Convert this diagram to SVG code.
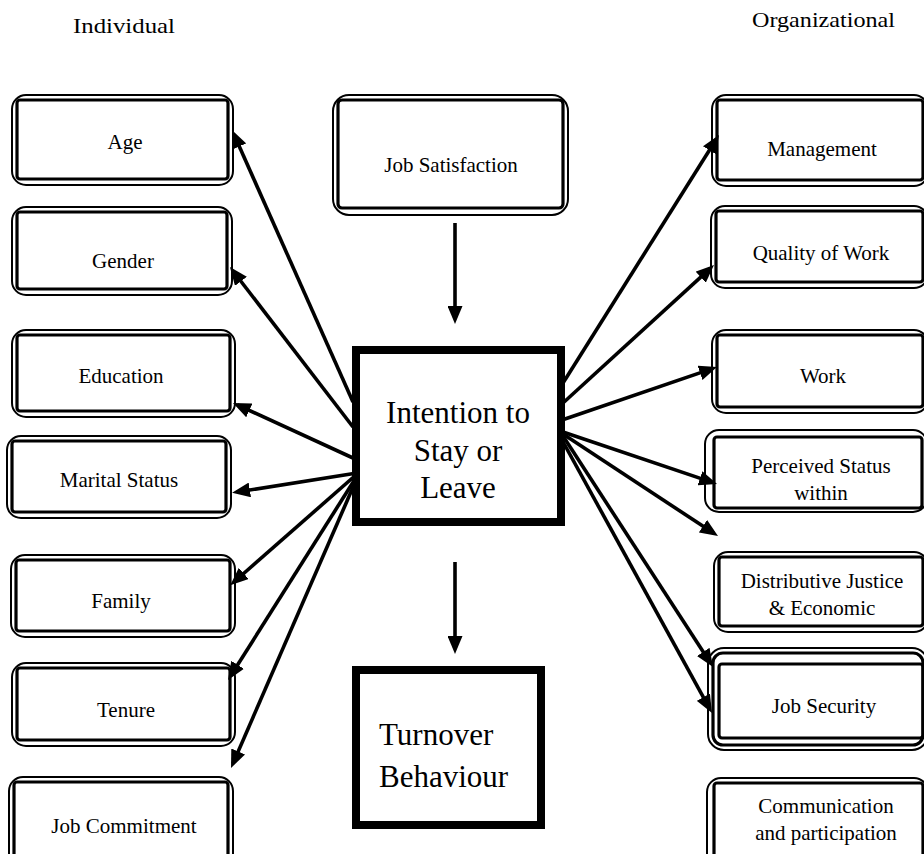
<svg xmlns="http://www.w3.org/2000/svg" width="924" height="854" viewBox="0 0 924 854">
<style>
.o{fill:#fff;stroke:#000;stroke-width:2}
.i{fill:none;stroke:#000;stroke-width:3.2}
.t{font-family:"Liberation Serif","Times New Roman",serif;font-size:21px;fill:#000;text-anchor:middle}
.big{font-family:"Liberation Serif","Times New Roman",serif;font-size:31px;fill:#000}
.hd{font-family:"Liberation Serif","Times New Roman",serif;font-size:21px;fill:#000}
.c{stroke:#000;stroke-width:3.6;fill:none;marker-end:url(#ah)}
.main{fill:#fff;stroke:#000;stroke-width:8}
</style>
<defs>
<marker id="ah" markerUnits="userSpaceOnUse" markerWidth="18" markerHeight="15" refX="13" refY="7.5" orient="auto">
<path d="M0,0 L18,7.5 L0,15 z" fill="#000"/>
</marker>
</defs>
<rect width="924" height="854" fill="#fff"/>
<text class="hd" x="73" y="33" textLength="102" lengthAdjust="spacingAndGlyphs">Individual</text>
<text class="hd" x="752" y="27" textLength="143" lengthAdjust="spacingAndGlyphs">Organizational</text>

<g id="age"><rect class="o" x="12" y="95" width="221" height="90" rx="14"/><rect class="i" x="17" y="100" width="211" height="79" rx="3"/><text class="t" x="125" y="149">Age</text></g>
<g id="gender"><rect class="o" x="12" y="207" width="220" height="88" rx="14"/><rect class="i" x="17" y="212" width="210" height="77" rx="3"/><text class="t" x="123" y="268">Gender</text></g>
<g id="education"><rect class="o" x="12" y="330" width="223" height="87" rx="14"/><rect class="i" x="17" y="335" width="213" height="76" rx="3"/><text class="t" x="121" y="383">Education</text></g>
<g id="marital"><rect class="o" x="7" y="436" width="224" height="82" rx="14"/><rect class="i" x="12" y="441" width="214" height="71" rx="3"/><text class="t" x="119" y="487">Marital Status</text></g>
<g id="family"><rect class="o" x="11" y="555" width="224" height="82" rx="14"/><rect class="i" x="16" y="560" width="214" height="71" rx="3"/><text class="t" x="121" y="608">Family</text></g>
<g id="tenure"><rect class="o" x="12" y="663" width="223" height="83" rx="14"/><rect class="i" x="17" y="668" width="213" height="72" rx="3"/><text class="t" x="126" y="717">Tenure</text></g>
<g id="commitment"><rect class="o" x="9" y="777" width="224" height="92" rx="14"/><rect class="i" x="14" y="782" width="214" height="81" rx="3"/><text class="t" x="124" y="833">Job Commitment</text></g>

<g id="satisfaction"><rect class="o" x="333" y="95" width="235" height="120" rx="16"/><rect class="i" x="338" y="100" width="225" height="108" rx="4"/><text class="t" x="451" y="172">Job Satisfaction</text></g>

<g id="intention"><rect class="main" x="356" y="350" width="205" height="172"/><text class="big" x="458" y="423" text-anchor="middle">Intention to</text><text class="big" x="458" y="461" text-anchor="middle">Stay or</text><text class="big" x="458" y="498" text-anchor="middle">Leave</text></g>
<g id="turnover"><rect class="main" x="356" y="670" width="185" height="155"/><text class="big" x="379" y="745">Turnover</text><text class="big" x="379" y="787">Behaviour</text></g>

<g id="management"><rect class="o" x="712" y="95" width="216" height="91" rx="14"/><rect class="i" x="717" y="100" width="206" height="80" rx="3"/><text class="t" x="822" y="156">Management</text></g>
<g id="quality"><rect class="o" x="711" y="206" width="217" height="82" rx="14"/><rect class="i" x="716" y="211" width="207" height="71" rx="3"/><text class="t" x="821" y="260">Quality of Work</text></g>
<g id="work"><rect class="o" x="712" y="330" width="216" height="83" rx="14"/><rect class="i" x="717" y="335" width="206" height="72" rx="3"/><text class="t" x="823" y="383">Work</text></g>
<g id="perceived"><rect class="o" x="705" y="430" width="222" height="82" rx="14"/><rect class="i" x="714" y="437" width="208" height="71" rx="3"/><text class="t" x="821" y="473">Perceived Status</text><text class="t" x="821" y="500">within</text></g>
<g id="distributive"><rect class="o" x="714" y="552" width="214" height="80" rx="14"/><rect class="i" x="719" y="557" width="204" height="69" rx="3"/><text class="t" x="822" y="588">Distributive Justice</text><text class="t" x="822" y="615">&amp; Economic</text></g>
<g id="security"><rect class="o" x="708" y="648" width="220" height="102" rx="16"/><rect class="i" x="713" y="653" width="210" height="92" rx="10"/><rect class="i" x="719" y="664" width="204" height="74" rx="3"/><text class="t" x="824" y="713">Job Security</text></g>
<g id="communication"><rect class="o" x="707" y="778" width="221" height="92" rx="14"/><rect class="i" x="714" y="783" width="209" height="81" rx="3"/><text class="t" x="826" y="813">Communication</text><text class="t" x="826" y="840">and participation</text></g>

<g id="connectors">
<line class="c" x1="455" y1="223" x2="455" y2="319"/>
<line class="c" x1="455" y1="562" x2="455" y2="649"/>
<line class="c" x1="353" y1="402" x2="234" y2="134.6"/>
<line class="c" x1="353" y1="427" x2="233" y2="271"/>
<line class="c" x1="353" y1="458" x2="237.5" y2="405"/>
<line class="c" x1="357" y1="473" x2="237" y2="492"/>
<line class="c" x1="357" y1="474" x2="234" y2="582"/>
<line class="c" x1="357" y1="476" x2="230.7" y2="675.8"/>
<line class="c" x1="357" y1="478" x2="233" y2="763.4"/>
<line class="c" x1="563" y1="383" x2="716.3" y2="139.2"/>
<line class="c" x1="563" y1="403" x2="710.3" y2="268.4"/>
<line class="c" x1="562" y1="420" x2="712.3" y2="368.6"/>
<line class="c" x1="563" y1="432" x2="712.3" y2="482.4"/>
<line class="c" x1="563" y1="434" x2="713.8" y2="533.3"/>
<line class="c" x1="563" y1="436" x2="710.3" y2="662.8"/>
<line class="c" x1="562" y1="440" x2="709.6" y2="708.6"/>
</g>
</svg>
